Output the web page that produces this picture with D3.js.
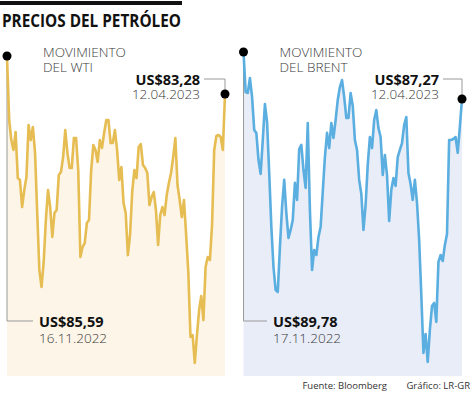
<!DOCTYPE html>
<html>
<head>
<meta charset="utf-8">
<script src="https://cdn.jsdelivr.net/npm/d3@7"></script>
<style>
  body { margin: 0; background: #fff; }
  svg { display: block; }
</style>
</head>
<body>
<div id="chart"></div>
<script>
// precios de cierre diarios
const wti = [85.59, 81.70, 80.48, 79.88, 80.97, 78.17, 78.05, 76.41, 77.44, 78.23,
  81.40, 80.48, 81.27, 79.69, 76.05, 72.58, 71.55, 73.07, 75.62, 77.44,
  76.41, 74.59, 76.05, 76.23, 78.36, 78.54, 79.45, 81.09, 79.69, 78.78,
  78.78, 80.61, 80.61, 78.66, 73.37, 73.98, 74.22, 75.44, 75.62, 78.66,
  80.18, 79.88, 79.15, 80.48, 80.00, 80.91, 81.70, 81.70, 80.30, 80.30,
  81.09, 79.88, 78.05, 78.84, 76.65, 76.05, 73.49, 74.71, 77.32, 78.66,
  78.17, 80.06, 80.24, 78.96, 78.78, 78.48, 76.53, 77.02, 77.32, 76.23,
  74.10, 75.92, 76.41, 75.92, 77.14, 77.87, 78.48, 79.45, 80.61, 77.75,
  76.84, 75.80, 76.84, 74.71, 72.46, 68.51, 68.63, 66.93, 68.63, 70.15,
  71.00, 69.54, 72.76, 73.37, 73.19, 75.32, 79.88, 80.73, 80.79, 80.67,
  79.88, 83.28]

const brent = [89.78, 87.64, 87.59, 88.39, 87.38, 85.62, 85.46, 84.01, 83.27, 85.08,
  87.00, 86.04, 83.32, 80.44, 78.30, 77.07, 76.97, 79.37, 81.51, 82.95,
  81.18, 79.85, 80.28, 80.81, 82.79, 81.88, 84.60, 84.82, 83.48, 82.52,
  85.99, 81.34, 78.14, 79.21, 78.94, 79.90, 80.44, 82.31, 84.17, 85.46,
  84.65, 85.99, 85.19, 86.15, 87.22, 87.91, 88.28, 87.38, 86.26, 86.26,
  87.59, 86.90, 85.08, 84.55, 82.95, 82.20, 80.28, 81.61, 83.75, 85.24,
  84.65, 86.15, 86.68, 85.72, 85.24, 83.21, 84.28, 83.21, 80.76, 82.41,
  83.05, 82.63, 84.17, 84.55, 84.92, 85.88, 86.31, 83.32, 82.73, 81.88,
  82.95, 81.72, 79.74, 76.81, 73.71, 74.72, 73.23, 74.94, 76.22, 76.38,
  75.37, 78.57, 78.94, 78.62, 79.48, 80.06, 85.08, 85.08, 85.14, 85.24,
  84.39, 85.78, 87.27]

const wtiDates = ["16.11.2022", "12.04.2023"]
const brentDates = ["17.11.2022", "12.04.2023"]
const titles = ["MOVIMIENTO", "DEL WTI", "DEL BRENT"]

const width = 474
const height = 395

// coma decimal y simbolo US$
const locale = d3.formatLocale({decimal: ",", thousands: ".", grouping: [3], currency: ["US$", ""]})
const fmt = locale.format("$.2f")

const svg = d3.select("#chart").append("svg")
    .attr("width", width)
    .attr("height", height)
    .style("font-family", "'Open Sans', sans-serif")

// barra negra y titulo
svg.append("rect")
    .attr("x", 0).attr("y", 1)
    .attr("width", 182).attr("height", 4)
    .attr("fill", "#111")

svg.append("text")
    .attr("x", 2).attr("y", 27)
    .attr("font-size", 17)
    .attr("font-weight", 700)
    .attr("fill", "#111")
    .attr("textLength", 179)
    .attr("lengthAdjust", "spacingAndGlyphs")
    .text("PRECIOS DEL PETRÓLEO")

const bottom = 376

const panels = [
    {data: wti, dates: wtiDates, name: titles[1], x0: 7, x1: 225, dom: [66.14, 85.59], top: 56,
     line: "#e6bd52", fill: "#fdf5e8", label0: 39, labelEnd: 200},
    {data: brent, dates: brentDates, name: titles[2], x0: 243.5, x1: 462, dom: [72.48, 89.78], top: 52,
     line: "#5aaee0", fill: "#e9edf8", label0: 273, labelEnd: 439}
]

panels.forEach(p => {
    const n = p.data.length
    const x = d3.scaleLinear().domain([0, n - 1]).range([p.x0, p.x1])
    const y = d3.scaleLinear().domain(p.dom).range([bottom, p.top])

    const g = svg.append("g")

    const area = d3.area()
        .x((d, i) => x(i))
        .y0(bottom)
        .y1(d => y(d))

    const line = d3.line()
        .x((d, i) => x(i))
        .y(d => y(d))

    g.append("path")
        .datum(p.data)
        .attr("d", area)
        .attr("fill", p.fill)

    // guia del primer valor
    g.append("path")
        .attr("d", `M${x(0)},${y(p.data[0])}V321H${p.label0 - 6}`)
        .attr("fill", "none")
        .attr("stroke", "#999")
        .attr("stroke-width", 1)

    g.append("path")
        .datum(p.data)
        .attr("d", line)
        .attr("fill", "none")
        .attr("stroke", p.line)
        .attr("stroke-width", 2.6)
        .attr("stroke-linejoin", "round")

    // guia del ultimo valor
    g.append("path")
        .attr("d", `M${p.labelEnd + 4},79H${x(n - 1)}V${y(p.data[n - 1])}`)
        .attr("fill", "none")
        .attr("stroke", "#999")
        .attr("stroke-width", 1)

    g.selectAll("circle")
        .data([0, n - 1])
        .join("circle")
            .attr("cx", i => x(i))
            .attr("cy", i => y(p.data[i]))
            .attr("r", 4.5)
            .attr("fill", "#000")

    // titulo del panel
    const t = g.append("text")
        .attr("font-size", 13.5)
        .attr("font-weight", 300)
        .attr("fill", "#3a3a3a")
    t.append("tspan").attr("x", p.x0 + 36).attr("y", 57).text(titles[0])
    t.append("tspan").attr("x", p.x0 + 36).attr("y", 72).text(p.name)

    // valor final
    g.append("text")
        .attr("x", p.labelEnd).attr("y", 85)
        .attr("text-anchor", "end")
        .attr("font-size", 14.5)
        .attr("font-weight", 700)
        .attr("fill", "#111")
        .text(fmt(p.data[n - 1]))
    g.append("text")
        .attr("x", p.labelEnd).attr("y", 99)
        .attr("text-anchor", "end")
        .attr("font-size", 13.5)
        .attr("font-weight", 300)
        .attr("fill", "#3a3a3a")
        .text(p.dates[1])

    // valor inicial
    g.append("text")
        .attr("x", p.label0).attr("y", 327)
        .attr("font-size", 14.5)
        .attr("font-weight", 700)
        .attr("fill", "#111")
        .text(fmt(p.data[0]))
    g.append("text")
        .attr("x", p.label0).attr("y", 343)
        .attr("font-size", 13.5)
        .attr("font-weight", 300)
        .attr("fill", "#3a3a3a")
        .text(p.dates[0])
})

// fuente
svg.append("text")
    .attr("x", 387).attr("y", 389)
    .attr("text-anchor", "end")
    .attr("font-size", 9.5)
    .attr("fill", "#333")
    .text("Fuente: Bloomberg")
svg.append("text")
    .attr("x", 470).attr("y", 389)
    .attr("text-anchor", "end")
    .attr("font-size", 9.5)
    .attr("fill", "#333")
    .text("Gráfico: LR-GR")
</script>
</body>
</html>
